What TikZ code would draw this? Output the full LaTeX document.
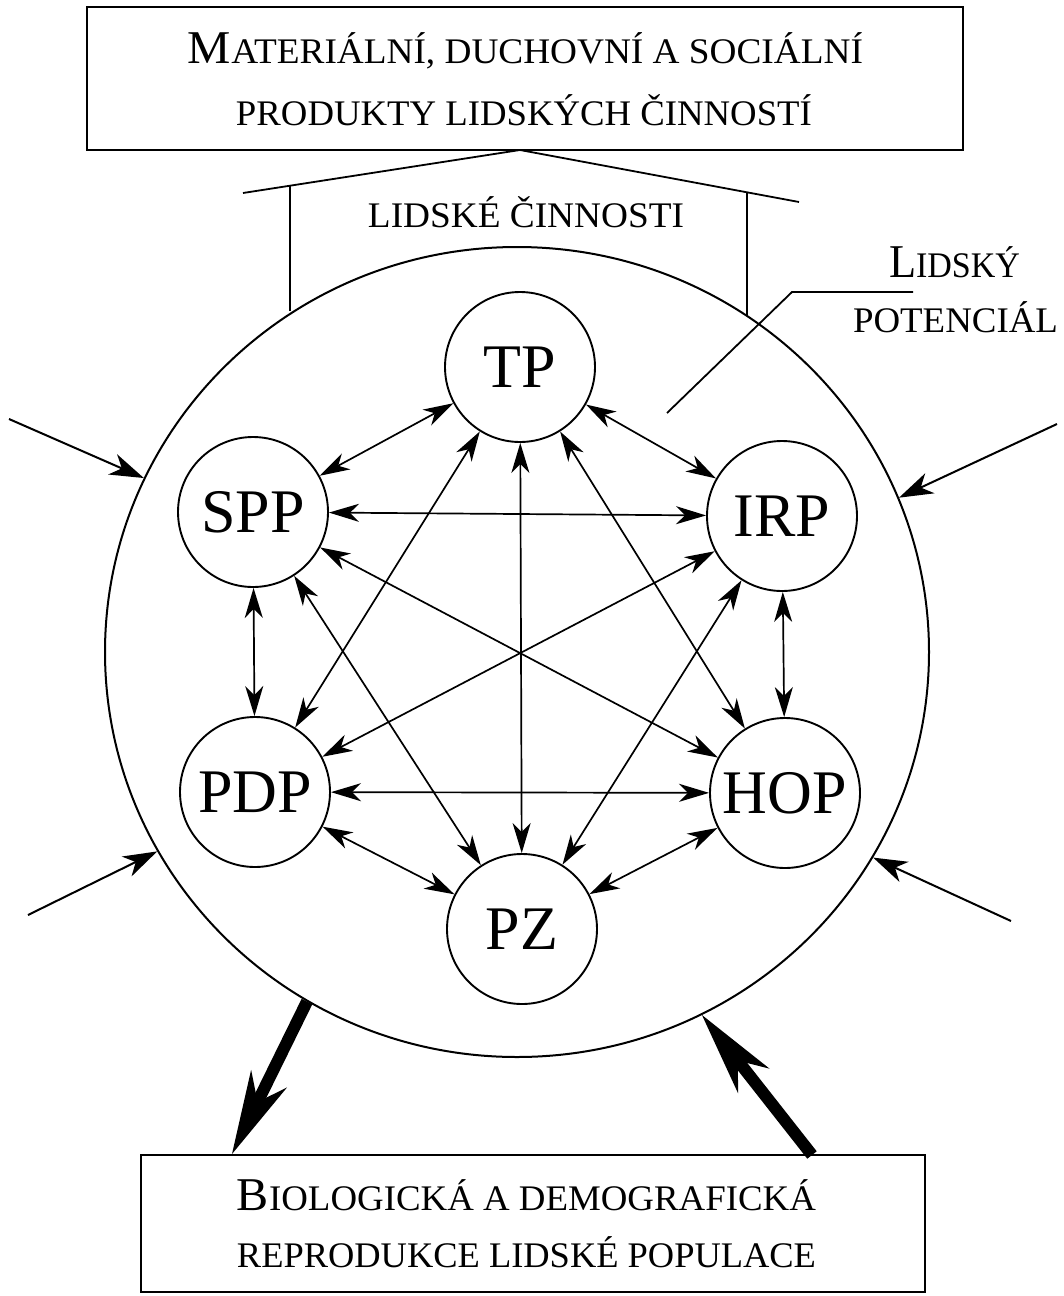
\documentclass[tikz,border=0pt]{standalone}
\usepackage{fontspec}
\setmainfont{Liberation Serif}
\usepackage{graphicx}
\usetikzlibrary{arrows.meta,shapes.geometric}
\newcommand\fitw[2]{\resizebox{#1}{\height}{#2}}
\newcommand\bigf{\fontsize{47}{47}\selectfont}
\newcommand\smf{\fontsize{36}{36}\selectfont}
\begin{document}
\begin{tikzpicture}[x=1pt,y=-1pt,
  actnode/.style={circle, draw, line width=1.9pt, minimum size=150pt, inner sep=0pt, font=\fontsize{62}{62}\selectfont},
  txt/.style={anchor=base, inner sep=0pt},
  boxst/.style={draw, line width=2.2pt, inner sep=0pt},
  dbl/.style={line width=1.7pt, {Stealth[length=30pt,width=18pt,inset=9pt]}-{Stealth[length=30pt,width=18pt,inset=9pt]}},
  inarrow/.style={line width=2pt, -{Stealth[length=34pt,width=22pt,inset=10pt]}},
  fat/.style={line width=12pt, -{Stealth[length=84pt,width=40pt,inset=26pt,line width=0pt]}},
  thinline/.style={line width=1.8pt}
]
\useasboundingbox (0,0) rectangle (1064,1296);

% top box
\node[boxst, minimum width=876pt, minimum height=143pt] (top) at (525,78.5) {};
\node[txt] (t1) at (525.5,63) {\fitw{675pt}{{\bigf M}\smf ATERIÁLNÍ, DUCHOVNÍ A SOCIÁLNÍ}};
\node[txt] (t2) at (524,125) {\fitw{576pt}{\smf PRODUKTY LIDSKÝCH ČINNOSTÍ}};

% big circle
\node[ellipse, draw, line width=2pt, minimum width=824pt, minimum height=810pt, inner sep=0pt] (lp) at (517,652) {};

% roof
\coordinate (apex) at (520,150);
\coordinate (rl) at (243,193);
\coordinate (rr) at (799,202);
\draw[thinline] (rl) -- (apex) -- (rr);
\coordinate (wl) at (290,186);
\coordinate (wr) at (747,193);
\draw[thinline] (wl) -- (290,311);
\draw[thinline] (wr) -- (747,316);
\node[txt] (act) at (526,227) {\fitw{316pt}{\smf LIDSKÉ ČINNOSTI}};

% lidsky potencial
\node[txt] (lp1) at (954.5,277) {\fitw{131pt}{{\bigf L}\smf IDSKÝ}};
\node[txt] (lp2) at (955.5,332) {\fitw{205pt}{\smf POTENCIÁL}};
\coordinate (l1) at (913,292);
\coordinate (l2) at (792,292);
\coordinate (l3) at (667,413);
\draw[thinline] (l1) -- (l2) -- (l3);

% activity nodes
\node[actnode] (TP) at (520,367) {TP};
\node[actnode] (SPP) at (253,512) {SPP};
\node[actnode] (IRP) at (782,516) {IRP};
\node[actnode] (PDP) at (255,792) {PDP};
\node[actnode] (HOP) at (785,793) {HOP};
\node[actnode] (PZ) at (522,929) {PZ};

\draw[dbl] (TP) -- (SPP);
\draw[dbl] (TP) -- (IRP);
\draw[dbl] (TP) -- (PDP);
\draw[dbl] (TP) -- (HOP);
\draw[dbl] (TP) -- (PZ);
\draw[dbl] (SPP) -- (IRP);
\draw[dbl] (SPP) -- (PDP);
\draw[dbl] (SPP) -- (HOP);
\draw[dbl] (SPP) -- (PZ);
\draw[dbl] (IRP) -- (PDP);
\draw[dbl] (IRP) -- (HOP);
\draw[dbl] (IRP) -- (PZ);
\draw[dbl] (PDP) -- (HOP);
\draw[dbl] (PDP) -- (PZ);
\draw[dbl] (HOP) -- (PZ);

% outer influences
\coordinate (o1) at (9,419);
\coordinate (o2) at (1057,424);
\coordinate (o3) at (28,915);
\coordinate (o4) at (1011,921);
\draw[inarrow] (o1) -- (lp.155.8);
\draw[inarrow] (o2) -- (lp.22.6);
\draw[inarrow] (o3) -- (lp.209.5);
\draw[inarrow] (o4) -- (lp.330.3);

% bottom box
\node[boxst, minimum width=784pt, minimum height=137pt] (bot) at (533,1223.5) {};
\node[txt] (b1) at (526.5,1210) {\fitw{579pt}{{\bigf B}\smf IOLOGICKÁ A DEMOGRAFICKÁ}};
\node[txt] (b2) at (526.5,1267) {\fitw{579pt}{\smf REPRODUKCE LIDSKÉ POPULACE}};

\coordinate (f1) at (232,1154);
\coordinate (f2) at (812,1155);
\draw[fat] (lp.239.5) -- (f1);
\draw[fat] (f2) -- (lp.297.6);
\end{tikzpicture}
\end{document}
